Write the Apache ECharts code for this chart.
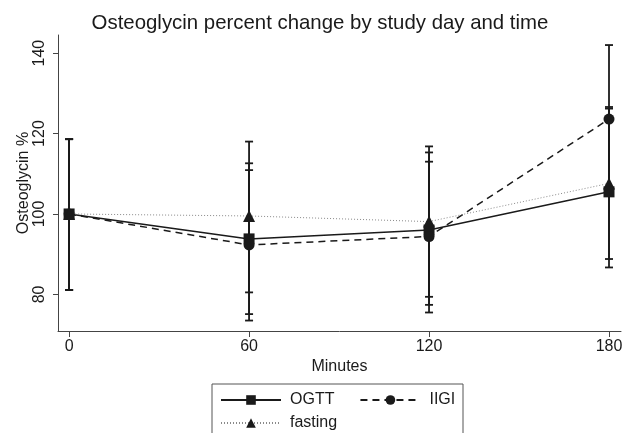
<!DOCTYPE html>
<html>
<head>
<meta charset="utf-8">
<script src="https://cdn.jsdelivr.net/npm/echarts@6/dist/echarts.min.js"></script>
<style>
  html, body { margin: 0; padding: 0; background: #fff; }
  #chart { width: 632px; height: 433px; }
</style>
</head>
<body>
<div id="chart"></div>
<script>
// minutes on the x axis
var minutes = [0, 60, 120, 180];
var tickX = [0, 60, 120, 180];
var tickY = [80, 100, 120, 140];

// mean percent and CI ends
var ogtt = [100, 93.8, 96.0, 105.5];
var ogttLow = [81.1, 75.1, 77.4, 86.7];
var ogttHigh = [118.6, 112.6, 115.3, 126.2];

var iigi = [100, 92.3, 94.4, 123.6];
var iigiLow = [81.1, 73.5, 75.5, 105.2];
var iigiHigh = [118.6, 110.9, 113.0, 142.0];

var fasting = [100, 99.5, 98.1, 107.6];
var fastingLow = [81.1, 80.5, 79.4, 88.8];
var fastingHigh = [118.6, 118.0, 116.8, 126.6];

var ink = '#1a1a1a';
var font = 'Liberation Sans, Arial, sans-serif';

function pts(ys) {
  return minutes.map(function (m, i) { return [m, ys[i]]; });
}
function bars(lo, hi) {
  return minutes.map(function (m, i) { return [m, lo[i], hi[i]]; });
}

// vertical error bar with caps
function errBar(params, api) {
  var top = api.coord([api.value(0), api.value(2)]);
  var bot = api.coord([api.value(0), api.value(1)]);
  var w = 4;
  var st = { stroke: ink, lineWidth: 1.8 };
  return {
    type: 'group',
    children: [
      { type: 'line', shape: { x1: top[0], y1: top[1], x2: bot[0], y2: bot[1] }, style: st },
      { type: 'line', shape: { x1: top[0] - w, y1: top[1], x2: top[0] + w, y2: top[1] }, style: st },
      { type: 'line', shape: { x1: bot[0] - w, y1: bot[1], x2: bot[0] + w, y2: bot[1] }, style: st }
    ]
  };
}

function ciSeries(name, lo, hi) {
  return {
    name: name,
    type: 'custom',
    renderItem: errBar,
    encode: { x: 0, y: [1, 2] },
    data: bars(lo, hi),
    z: 1,
    silent: true
  };
}

var myChart = echarts.init(document.getElementById('chart'));

var option = {
  animation: false,
  backgroundColor: '#fff',
  textStyle: { fontFamily: font, color: ink },
  title: {
    text: 'Osteoglycin percent change by study day and time',
    left: 315,
    textAlign: 'center',
    top: 8,
    textStyle: { fontFamily: font, fontSize: 20.4, fontWeight: 'normal', color: ink }
  },
  grid: { left: 58, right: 11, top: 35, bottom: 102 },
  xAxis: {
    type: 'value',
    min: -3.7,
    max: 184,
    name: 'Minutes',
    nameLocation: 'middle',
    nameGap: 28,
    nameMoveOverlap: false,
    nameTextStyle: { fontSize: 16, color: ink },
    splitLine: { show: false },
    axisLine: { onZero: false, lineStyle: { color: '#444', width: 1 } },
    axisTick: { length: 6, customValues: tickX, lineStyle: { color: '#444' } },
    axisLabel: { customValues: tickX, fontSize: 16, color: ink, margin: 8 }
  },
  yAxis: {
    type: 'value',
    min: 70.9,
    max: 144.5,
    name: 'Osteoglycin %',
    nameLocation: 'middle',
    nameGap: 26,
    nameMoveOverlap: false,
    nameTextStyle: { fontSize: 16, color: ink },
    splitLine: { show: false },
    axisLine: { show: true, onZero: false, lineStyle: { color: '#444', width: 1 } },
    axisTick: { show: true, length: 5, customValues: tickY, lineStyle: { color: '#444' } },
    axisLabel: { customValues: tickY, rotate: 90, fontSize: 16, color: ink, margin: 10 }
  },
  legend: [
    {
      data: ['OGTT', 'IIGI'],
      left: 220,
      top: 392,
      itemWidth: 60,
      itemHeight: 12,
      itemGap: 25,
      padding: 0,
      selectedMode: false,
      textStyle: { fontSize: 16, color: ink, padding: [0, 0, 0, 4] }
    },
    {
      data: ['fasting'],
      left: 220,
      top: 415,
      itemWidth: 60,
      itemHeight: 12,
      padding: 0,
      selectedMode: false,
      textStyle: { fontSize: 16, color: ink, padding: [0, 0, 0, 4] }
    }
  ],
  graphic: [
    {
      type: 'rect',
      shape: { x: 212, y: 384, width: 251, height: 70 },
      style: { fill: 'none', stroke: '#555', lineWidth: 1 },
      silent: true
    }
  ],
  series: [
    ciSeries('ogttCI', ogttLow, ogttHigh),
    ciSeries('iigiCI', iigiLow, iigiHigh),
    ciSeries('fastingCI', fastingLow, fastingHigh),
    {
      name: 'OGTT',
      type: 'line',
      data: pts(ogtt),
      symbol: 'rect',
      symbolSize: 11,
      lineStyle: { color: ink, width: 1.5, type: 'solid' },
      itemStyle: { color: ink },
      z: 3
    },
    {
      name: 'IIGI',
      type: 'line',
      data: pts(iigi),
      symbol: 'circle',
      symbolSize: 11,
      lineStyle: { color: ink, width: 1.5, type: [7, 5] },
      itemStyle: { color: ink },
      z: 3
    },
    {
      name: 'fasting',
      type: 'line',
      data: pts(fasting),
      symbol: 'triangle',
      symbolSize: 12,
      lineStyle: { color: '#8a8a8a', width: 1, type: [1, 2] },
      itemStyle: { color: ink },
      z: 3
    }
  ]
};

myChart.setOption(option);
</script>
</body>
</html>
